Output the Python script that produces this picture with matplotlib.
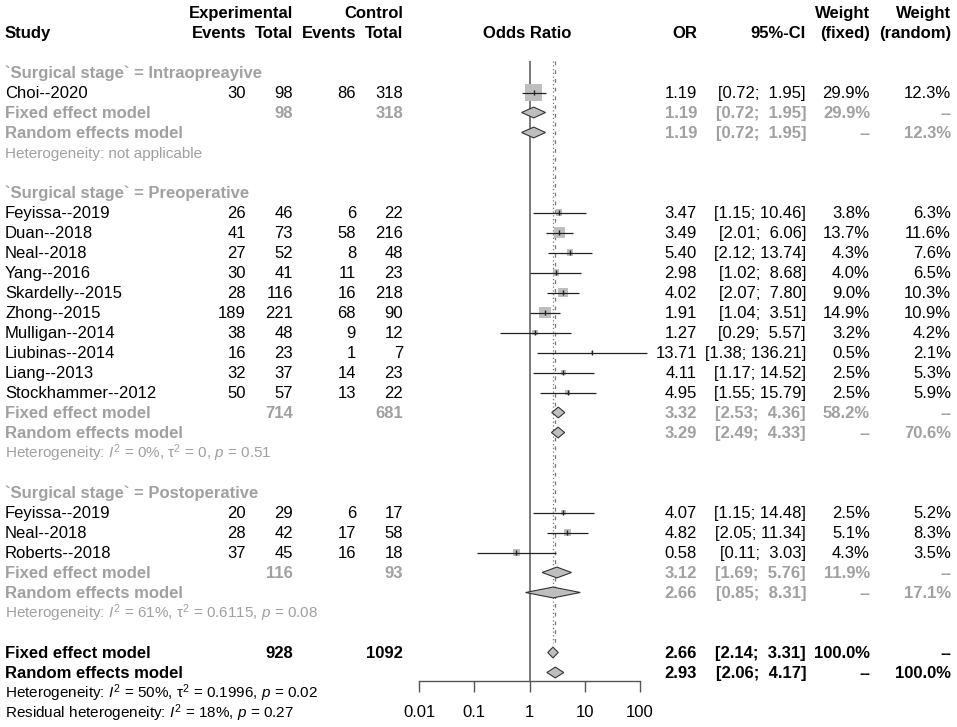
import numpy as np
import matplotlib.pyplot as plt

plt.rcParams['font.family'] = ['Liberation Sans', 'DejaVu Sans']
plt.rcParams['mathtext.fontset'] = 'custom'
plt.rcParams['mathtext.rm'] = 'Liberation Sans'
plt.rcParams['mathtext.it'] = 'Liberation Sans:italic'
plt.rcParams['mathtext.bf'] = 'Liberation Sans:bold'

# --- study level data ---
groups = ["Intraopreayive", "Preoperative", "Postoperative"]
study_group = [0, 1, 1, 1, 1, 1, 1, 1, 1, 1, 1, 2, 2, 2]
studies = ["Choi--2020",
           "Feyissa--2019", "Duan--2018", "Neal--2018", "Yang--2016",
           "Skardelly--2015", "Zhong--2015", "Mulligan--2014",
           "Liubinas--2014", "Liang--2013", "Stockhammer--2012",
           "Feyissa--2019", "Neal--2018", "Roberts--2018"]
exp_events = [30, 26, 41, 27, 30, 28, 189, 38, 16, 32, 50, 20, 28, 37]
exp_total = [98, 46, 73, 52, 41, 116, 221, 48, 23, 37, 57, 29, 42, 45]
ctrl_events = [86, 6, 58, 8, 11, 16, 68, 9, 1, 14, 13, 6, 17, 16]
ctrl_total = [318, 22, 216, 48, 23, 218, 90, 12, 7, 23, 22, 17, 58, 18]
odds = [1.19, 3.47, 3.49, 5.40, 2.98, 4.02, 1.91, 1.27, 13.71, 4.11, 4.95,
        4.07, 4.82, 0.58]
ci_lo = [0.72, 1.15, 2.01, 2.12, 1.02, 2.07, 1.04, 0.29, 1.38, 1.17, 1.55,
         1.15, 2.05, 0.11]
ci_hi = [1.95, 10.46, 6.06, 13.74, 8.68, 7.80, 3.51, 5.57, 136.21, 14.52,
         15.79, 14.48, 11.34, 3.03]
w_fixed = [29.9, 3.8, 13.7, 4.3, 4.0, 9.0, 14.9, 3.2, 0.5, 2.5, 2.5,
           2.5, 5.1, 4.3]
w_random = [12.3, 6.3, 11.6, 7.6, 6.5, 10.3, 10.9, 4.2, 2.1, 5.3, 5.9,
            5.2, 8.3, 3.5]

# --- subgroup summaries ---
grp_exp_total = [98, 714, 116]
grp_ctrl_total = [318, 681, 93]
grp_fixed_or = [1.19, 3.32, 3.12]
grp_fixed_lo = [0.72, 2.53, 1.69]
grp_fixed_hi = [1.95, 4.36, 5.76]
grp_fixed_w = [29.9, 58.2, 11.9]
grp_random_or = [1.19, 3.29, 2.66]
grp_random_lo = [0.72, 2.49, 0.85]
grp_random_hi = [1.95, 4.33, 8.31]
grp_random_w = [12.3, 70.6, 17.1]
grp_het = ["Heterogeneity: not applicable",
           r"Heterogeneity: $I^2$ = 0%, τ$^2$ = 0, $p$ = 0.51",
           r"Heterogeneity: $I^2$ = 61%, τ$^2$ = 0.6115, $p$ = 0.08"]

# --- overall ---
total_exp = 928
total_ctrl = 1092
fixed_all = [2.66, 2.14, 3.31, 100.0]
random_all = [2.93, 2.06, 4.17, 100.0]
het_all = r"Heterogeneity: $I^2$ = 50%, τ$^2$ = 0.1996, $p$ = 0.02"
resid_het = r"Residual heterogeneity: $I^2$ = 18%, $p$ = 0.27"

xticks = [0.01, 0.1, 1, 10, 100]
xtick_labels = ["0.01", "0.1", "1", "10", "100"]

# --- layout (pixels) ---
W, H = 957, 727
ROW0, ROWH = 12.5, 20.0
X_STUDY, X_EEV, X_ETOT, X_CEV, X_CTOT = 5, 246, 293, 356, 403
X_OR, X_CI, X_WF, X_WR = 697, 806, 870, 951
FX0, FX1, AXIS_Y = 419, 640, 681
GRAY = '#a0a0a0'
SQ = '#bebebe'
FS, FS_HET = 12, 11
BASE = 0.27


def row_of(px):
    return (px - ROW0) / ROWH


fig = plt.figure(figsize=(W / 100, H / 100), dpi=100)
bg = fig.add_axes([0, 0, 1, 1])
bg.set_xlim(0, W)
bg.set_ylim(row_of(H), row_of(0))
bg.axis('off')

ax = fig.add_axes([FX0 / W, (H - AXIS_Y) / H, (FX1 - FX0) / W, AXIS_Y / H])
ax.set_xscale('log')
ax.set_xlim(0.01, 100)
ax.set_ylim(row_of(AXIS_Y), row_of(0))
ax.patch.set_alpha(0)


def txt(x, r, s, ha='right', color='black', bold=False, size=FS):
    bg.text(x, r + BASE, s, ha=ha, va='baseline', color=color, fontsize=size,
            fontweight='bold' if bold else 'normal')


def ci_str(lo, hi):
    return f"[{lo:.2f}; {hi:5.2f}]"


def pct(w):
    return "--" if w is None else f"{w:.1f}%"


def diamond(est, lo, hi, r, h=0.27):
    ax.fill([lo, est, hi, est], [r, r - h, r, r + h], facecolor=SQ,
            edgecolor='#333333', lw=0.8, zorder=4, clip_on=False)


# header
txt(X_ETOT, 0, "Experimental", bold=True)
txt(X_CTOT, 0, "Control", bold=True)
txt(X_WF, 0, "Weight", bold=True)
txt(X_WR, 0, "Weight", bold=True)
txt(X_STUDY, 1, "Study", ha='left', bold=True)
for x, s in [(X_EEV, "Events"), (X_ETOT, "Total"), (X_CEV, "Events"),
             (X_CTOT, "Total"), (X_OR, "OR"), (X_CI, "95%-CI"),
             (X_WF, "(fixed)"), (X_WR, "(random)")]:
    txt(x, 1, s, bold=True)
txt((FX0 + FX1) / 2 - 2, 1, "Odds Ratio", ha='center', bold=True)

study_rows = []
r = 3
for g, name in enumerate(groups):
    txt(X_STUDY, r, f"`Surgical stage` = {name}", ha='left', color=GRAY,
        bold=True)
    r += 1
    for i, sg in enumerate(study_group):
        if sg != g:
            continue
        study_rows.append(r)
        txt(X_STUDY, r, studies[i], ha='left')
        txt(X_EEV, r, str(exp_events[i]))
        txt(X_ETOT, r, str(exp_total[i]))
        txt(X_CEV, r, str(ctrl_events[i]))
        txt(X_CTOT, r, str(ctrl_total[i]))
        txt(X_OR, r, f"{odds[i]:.2f}")
        txt(X_CI, r, ci_str(ci_lo[i], ci_hi[i]))
        txt(X_WF, r, pct(w_fixed[i]))
        txt(X_WR, r, pct(w_random[i]))
        r += 1
    # fixed
    txt(X_STUDY, r, "Fixed effect model", ha='left', color=GRAY, bold=True)
    txt(X_ETOT, r, str(grp_exp_total[g]), color=GRAY, bold=True)
    txt(X_CTOT, r, str(grp_ctrl_total[g]), color=GRAY, bold=True)
    txt(X_OR, r, f"{grp_fixed_or[g]:.2f}", color=GRAY, bold=True)
    txt(X_CI, r, ci_str(grp_fixed_lo[g], grp_fixed_hi[g]), color=GRAY, bold=True)
    txt(X_WF, r, pct(grp_fixed_w[g]), color=GRAY, bold=True)
    txt(X_WR, r, "--", color=GRAY, bold=True)
    diamond(grp_fixed_or[g], grp_fixed_lo[g], grp_fixed_hi[g], r)
    r += 1
    # random
    txt(X_STUDY, r, "Random effects model", ha='left', color=GRAY, bold=True)
    txt(X_OR, r, f"{grp_random_or[g]:.2f}", color=GRAY, bold=True)
    txt(X_CI, r, ci_str(grp_random_lo[g], grp_random_hi[g]), color=GRAY, bold=True)
    txt(X_WF, r, "--", color=GRAY, bold=True)
    txt(X_WR, r, pct(grp_random_w[g]), color=GRAY, bold=True)
    diamond(grp_random_or[g], grp_random_lo[g], grp_random_hi[g], r)
    r += 1
    txt(X_STUDY, r, grp_het[g], ha='left', color=GRAY, size=FS_HET)
    r += 2

# overall
txt(X_STUDY, r, "Fixed effect model", ha='left', bold=True)
txt(X_ETOT, r, str(total_exp), bold=True)
txt(X_CTOT, r, str(total_ctrl), bold=True)
txt(X_OR, r, f"{fixed_all[0]:.2f}", bold=True)
txt(X_CI, r, ci_str(fixed_all[1], fixed_all[2]), bold=True)
txt(X_WF, r, pct(fixed_all[3]), bold=True)
txt(X_WR, r, "--", bold=True)
diamond(fixed_all[0], fixed_all[1], fixed_all[2], r)
fixed_row = r
r += 1
txt(X_STUDY, r, "Random effects model", ha='left', bold=True)
txt(X_OR, r, f"{random_all[0]:.2f}", bold=True)
txt(X_CI, r, ci_str(random_all[1], random_all[2]), bold=True)
txt(X_WF, r, "--", bold=True)
txt(X_WR, r, pct(random_all[3]), bold=True)
diamond(random_all[0], random_all[1], random_all[2], r)
r += 1
txt(X_STUDY, r, het_all, ha='left', size=FS_HET)
txt(X_STUDY, r + 1, resid_het, ha='left', size=FS_HET)

# study squares and CIs
study_rows = np.array(study_rows)
sizes = (3.1 * np.sqrt(np.array(w_fixed)) * 0.72) ** 2
ax.scatter(odds, study_rows, s=sizes, marker='s', color=SQ, lw=0, zorder=2)
ax.hlines(study_rows, ci_lo, ci_hi, color='#222222', lw=0.9, zorder=3,
          clip_on=False)
ax.vlines(odds, study_rows - 0.13, study_rows + 0.13, color='#222222',
          lw=1.0, zorder=3)

# reference lines
top = row_of(61)
ax.vlines(1, top, row_of(AXIS_Y), color='#555555', lw=1.1, zorder=1)
ax.vlines(fixed_all[0], top, fixed_row - 0.5, color='#777777', lw=0.9,
          linestyles=(0, (1, 2)), zorder=1)
ax.vlines(random_all[0], top, fixed_row - 0.5, color='#777777', lw=0.9,
          linestyles=(0, (3, 4)), zorder=1)

# axis
for s in ['left', 'right', 'top']:
    ax.spines[s].set_visible(False)
ax.spines['bottom'].set_color('#555555')
ax.spines['bottom'].set_linewidth(1.0)
ax.set_yticks([])
ax.set_xticks(xticks)
ax.set_xticklabels(xtick_labels)
ax.minorticks_off()
ax.tick_params(axis='x', length=8, width=1.0, color='#555555',
               labelsize=FS, pad=9)

fig.savefig("out.png", dpi=100, facecolor='white')
